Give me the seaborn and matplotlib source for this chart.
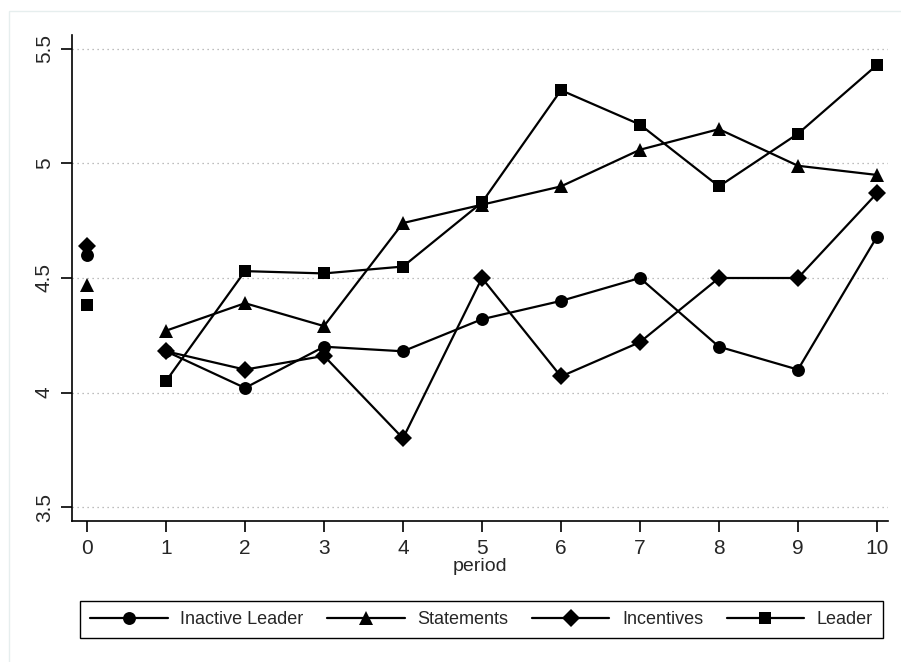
import numpy as np
import pandas as pd
import matplotlib
matplotlib.use("Agg")
import matplotlib.pyplot as plt
import seaborn as sns
from matplotlib.patches import Rectangle

# Datos
periods = [0, 1, 2, 3, 4, 5, 6, 7, 8, 9, 10]
groups = ["Inactive Leader", "Statements", "Incentives", "Leader"]
inactive_leader = [4.60, 4.18, 4.02, 4.20, 4.18, 4.32, 4.40, 4.50, 4.20, 4.10, 4.68]
statements = [4.47, 4.27, 4.39, 4.29, 4.74, 4.82, 4.90, 5.06, 5.15, 4.99, 4.95]
incentives = [4.64, 4.18, 4.10, 4.16, 3.80, 4.50, 4.07, 4.22, 4.50, 4.50, 4.87]
leader = [4.38, 4.05, 4.53, 4.52, 4.55, 4.83, 5.32, 5.17, 4.90, 5.13, 5.43]
y_ticks = [3.5, 4, 4.5, 5, 5.5]
y_labels = ["3.5", "4", "4.5", "5", "5.5"]

series = [inactive_leader, statements, incentives, leader]
df = pd.DataFrame({
    "period": periods * len(groups),
    "group": [g for g in groups for _ in periods],
    "value": [v for s in series for v in s],
})
df_line = df[df["period"] > 0]
df_base = df[df["period"] == 0]

sns.set_theme(style="white")
plt.rcParams["font.family"] = ["Liberation Sans", "DejaVu Sans"]

markers = {"Inactive Leader": "o", "Statements": "^", "Incentives": "D", "Leader": "s"}
sizes = {"o": 9.3, "^": 9.5, "D": 9.0, "s": 8.5}

fig = plt.figure(figsize=(9.01, 6.62), dpi=100)
fig.patch.set_facecolor("white")
# marco claro del area del grafico
fig.add_artist(Rectangle((9 / 901, -0.1), 1.2, 1 - 11 / 662 + 0.1,
                         transform=fig.transFigure, fill=False,
                         edgecolor="#e6eeee", lw=1.0))

ax = fig.add_axes([72 / 901, 1 - 521 / 662, (888 - 72) / 901, (521 - 35) / 662])

for g in groups:
    m = markers[g]
    sub = df_line[df_line["group"] == g]
    sns.lineplot(data=sub, x="period", y="value", ax=ax, color="black",
                 marker=m, markersize=sizes[m], markeredgewidth=0,
                 lw=1.6, label=g)
    sub0 = df_base[df_base["group"] == g]
    ax.plot(sub0["period"], sub0["value"], ls="none", color="black",
            marker=m, markersize=sizes[m], markeredgewidth=0)

ax.set_xlim(-0.19, 10.14)
ax.set_ylim(3.439, 5.561)
ax.set_xticks(periods)
ax.set_xticklabels([str(p) for p in periods])
ax.set_yticks(y_ticks)
ax.set_yticklabels(y_labels, rotation=90, va="center")
ax.set_xlabel("period", fontsize=14, labelpad=0)
ax.set_ylabel("")

for yv in y_ticks:
    ax.axhline(yv, color="#a8a8a8", lw=0.9, ls=(0, (1, 3)), zorder=0)

for s in ["top", "right"]:
    ax.spines[s].set_visible(False)
for s in ["left", "bottom"]:
    ax.spines[s].set_color("black")
    ax.spines[s].set_linewidth(1.2)
ax.tick_params(axis="both", which="major", length=8, width=1.2,
               color="black", labelsize=15, pad=5, direction="out",
               left=True, bottom=True)

handles, labels = ax.get_legend_handles_labels()
ax.get_legend().remove()
leg = fig.legend(handles, labels, loc="lower left",
                 bbox_to_anchor=(80 / 901, 1 - 638 / 662, (883 - 80) / 901, (638 - 595) / 662),
                 mode="expand", ncol=4, fontsize=13, frameon=True, fancybox=False,
                 edgecolor="black", framealpha=1, handlelength=4.3,
                 handletextpad=0.7, borderpad=0.55, columnspacing=1.0,
                 borderaxespad=0)
leg.get_frame().set_linewidth(1.0)

fig.savefig("out.png", dpi=100)
